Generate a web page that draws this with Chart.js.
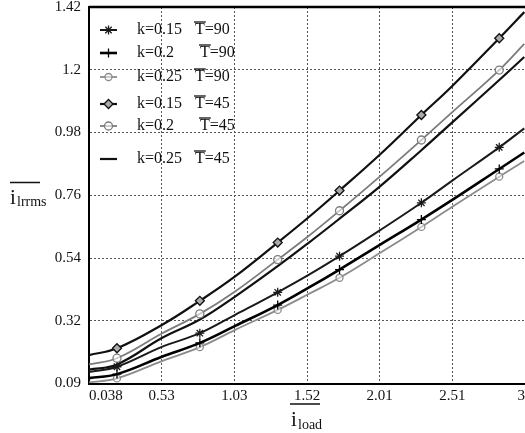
<!DOCTYPE html>
<html><head><meta charset="utf-8">
<style>html,body{margin:0;padding:0;background:#fff}#wrap{width:525px;height:433px}</style>
</head><body><div id="wrap"><canvas id="c" width="525" height="433"></canvas></div>
<script src="https://cdn.jsdelivr.net/npm/chart.js@4/dist/chart.umd.min.js"></script>
<script>
// x values (i_load) at which the curves were read
const xLoad = [0.038, 0.228, 0.533, 0.791, 1.028, 1.320, 1.530, 1.740, 2.011, 2.296, 2.506, 2.825, 2.995];
// series values (i_lrrms)
const k015T90 = [0.135, 0.154, 0.224, 0.272, 0.336, 0.416, 0.477, 0.543, 0.633, 0.731, 0.809, 0.926, 0.993];
const k020T90 = [0.114, 0.128, 0.189, 0.238, 0.297, 0.371, 0.432, 0.496, 0.582, 0.672, 0.741, 0.850, 0.908];
const k025T90 = [0.099, 0.113, 0.174, 0.223, 0.283, 0.354, 0.410, 0.467, 0.553, 0.646, 0.717, 0.823, 0.878];
const k015T45 = [0.195, 0.219, 0.301, 0.386, 0.471, 0.591, 0.680, 0.774, 0.899, 1.040, 1.142, 1.310, 1.402];
const k020T45 = [0.162, 0.184, 0.271, 0.340, 0.418, 0.531, 0.614, 0.703, 0.822, 0.952, 1.050, 1.198, 1.290];
const k025T45 = [0.144, 0.162, 0.255, 0.320, 0.400, 0.508, 0.590, 0.675, 0.787, 0.916, 1.014, 1.163, 1.244];
// legend parts
const legendK = ['0.15', '0.2', '0.25', '0.15', '0.2', '0.25'];
const legendT = ['90', '90', '90', '45', '45', '45'];
// tick labels
const xTickLabels = ['0.038', '0.53', '1.03', '1.52', '2.01', '2.51', '3'];
const yTickLabels = ['0.09', '0.32', '0.54', '0.76', '0.98', '1.2', '1.42'];
const xMin = 0.038, xMax = 3.0, yMin = 0.095, yMax = 1.42;
// indices carrying a marker
const markerIdx = [1, 3, 5, 7, 9, 11];

const SERIF = "'Liberation Serif', 'Times New Roman', serif";

function pts(arr) { return arr.map((v, i) => ({ x: xLoad[i], y: v })); }
function radii(r) { return xLoad.map((_, i) => markerIdx.includes(i) ? r : 0); }

const styles = [
  { data: k015T90, color: '#1a1a1a', width: 2, ps: 'star', r: 4.5, bg: '#1a1a1a' },
  { data: k020T90, color: '#000', width: 2.6, ps: 'cross', r: 4.5, bg: '#000' },
  { data: k025T90, color: '#8c8c8c', width: 1.8, ps: 'circle', r: 3.5, bg: 'rgba(255,255,255,0.5)' },
  { data: k015T45, color: '#111', width: 2.2, ps: 'rectRot', r: 4.5, bg: '#aaa' },
  { data: k020T45, color: '#7c7c7c', width: 1.8, ps: 'circle', r: 4, bg: 'rgba(255,255,255,0.6)' },
  { data: k025T45, color: '#111', width: 2.2, ps: false, r: 0, bg: '#111' }
];

const datasets = styles.map((s, i) => ({
  label: 'k=' + legendK[i] + ' T=' + legendT[i],
  data: pts(s.data),
  borderColor: s.color,
  backgroundColor: s.bg,
  borderWidth: s.width,
  pointStyle: s.ps,
  pointRadius: radii(s.r),
  pointHoverRadius: 0,
  pointBorderColor: s.color,
  pointBackgroundColor: s.bg,
  pointBorderWidth: 1.3,
  tension: 0.4,
  fill: false
}));

const decor = {
  id: 'decor',
  afterDraw(chart) {
    const ctx = chart.ctx, a = chart.chartArea;
    ctx.save();
    // top frame line
    ctx.strokeStyle = '#000'; ctx.lineWidth = 2.5;
    ctx.beginPath(); ctx.moveTo(a.left, a.top); ctx.lineTo(a.right, a.top); ctx.stroke();

    // legend
    const rowY = [30, 53, 77, 104, 126, 159];
    ctx.textBaseline = 'middle';
    ctx.textAlign = 'left';
    datasets.forEach((d, i) => {
      const y = rowY[i];
      ctx.strokeStyle = d.borderColor;
      ctx.lineWidth = d.borderWidth;
      ctx.beginPath(); ctx.moveTo(100, y); ctx.lineTo(117, y); ctx.stroke();
      if (d.pointStyle && Chart.helpers && Chart.helpers.drawPoint) {
        ctx.fillStyle = d.pointBackgroundColor;
        ctx.strokeStyle = d.pointBorderColor;
        ctx.lineWidth = d.pointBorderWidth;
        Chart.helpers.drawPoint(ctx, { pointStyle: d.pointStyle, radius: styles[i].r, rotation: 0, borderWidth: d.pointBorderWidth }, 108.5, y);
      }
      ctx.fillStyle = '#111';
      ctx.font = '16px ' + SERIF;
      ctx.fillText('k=' + legendK[i], 137, y);
      const tX = legendK[i].length === 3 ? 200 : 195;
      ctx.fillText('T', tX, y);
      const tw = ctx.measureText('T').width;
      ctx.fillText('=' + legendT[i], tX + tw, y);
      ctx.strokeStyle = '#111'; ctx.lineWidth = 1.3;
      ctx.beginPath(); ctx.moveTo(tX - 1, y - 8); ctx.lineTo(tX + tw + 1, y - 8); ctx.stroke();
    });

    // axis titles
    ctx.textBaseline = 'alphabetic';
    ctx.fillStyle = '#111';
    // y title
    ctx.font = '21px ' + SERIF;
    ctx.fillText('i', 10, 204);
    ctx.font = '14px ' + SERIF;
    ctx.fillText('lrrms', 17, 206);
    ctx.strokeStyle = '#111'; ctx.lineWidth = 1.5;
    ctx.beginPath(); ctx.moveTo(10, 182.5); ctx.lineTo(40, 182.5); ctx.stroke();
    // x title
    ctx.font = '21px ' + SERIF;
    ctx.fillText('i', 291, 426);
    ctx.font = '14px ' + SERIF;
    ctx.fillText('load', 298, 429);
    ctx.beginPath(); ctx.moveTo(290, 404); ctx.lineTo(320, 404); ctx.stroke();
    ctx.restore();
  }
};

new Chart(document.getElementById('c'), {
  type: 'line',
  data: { datasets },
  plugins: [decor],
  options: {
    responsive: false,
    animation: false,
    devicePixelRatio: 1,
    layout: { padding: { top: 7, left: 0, right: 0, bottom: 0 } },
    plugins: { legend: { display: false }, tooltip: { enabled: false }, title: { display: false } },
    scales: {
      x: {
        type: 'linear', min: xMin, max: xMax,
        afterBuildTicks: s => { s.ticks = xTickLabels.map((_, i) => ({ value: xMin + i * (xMax - xMin) / 6 })); },
        afterFit: s => { s.height = 49.5; s.paddingLeft = 0; s.paddingRight = 0; },
        ticks: {
          callback: (v, i) => xTickLabels[i],
          font: { family: SERIF, size: 15 }, color: '#111', padding: 4, align: 'inner',
          maxRotation: 0, autoSkip: false
        },
        grid: { color: '#555', lineWidth: 1, drawTicks: false },
        border: { display: true, color: '#000', width: 2, dash: [2, 2] }
      },
      y: {
        type: 'linear', min: yMin, max: yMax,
        afterBuildTicks: s => { s.ticks = yTickLabels.map((_, i) => ({ value: yMin + i * (yMax - yMin) / 6 })); },
        afterFit: s => { s.width = 89; s.paddingTop = 0; s.paddingBottom = 0; },
        ticks: {
          callback: (v, i) => yTickLabels[i],
          font: { family: SERIF, size: 15 }, color: '#111', padding: 8, autoSkip: false
        },
        grid: { color: '#555', lineWidth: 1, drawTicks: false },
        border: { display: true, color: '#000', width: 2, dash: [2, 2] }
      }
    }
  }
});
</script>
</body></html>
